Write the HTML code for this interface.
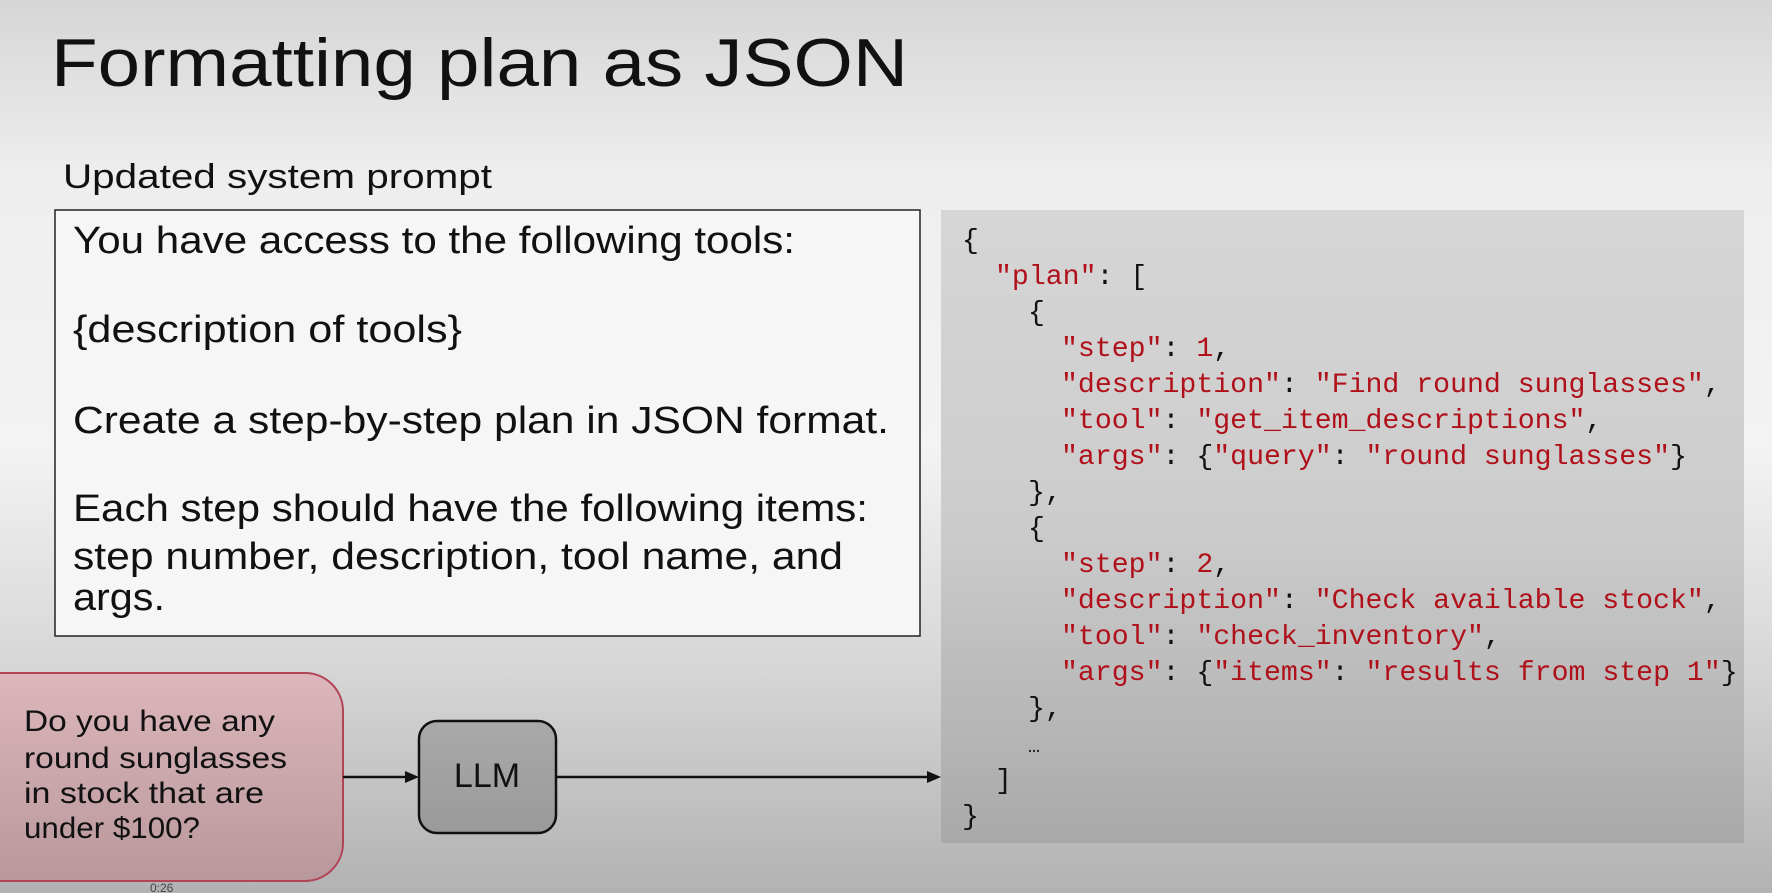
<!DOCTYPE html>
<html><head><meta charset="utf-8"><style>
html,body{margin:0;padding:0;width:1772px;height:893px;overflow:hidden}
svg{display:block}
</style></head><body>
<svg width="1772" height="893" viewBox="0 0 1772 893" xmlns="http://www.w3.org/2000/svg">
<defs>
<linearGradient id="bg" x1="0" y1="0" x2="0" y2="1">
<stop offset="0" stop-color="#d6d6d6"/>
<stop offset="0.2" stop-color="#eeeeee"/>
<stop offset="0.5" stop-color="#f3f3f3"/>
<stop offset="0.75" stop-color="#d6d6d6"/>
<stop offset="1" stop-color="#b2b2b2"/>
</linearGradient>
<linearGradient id="code" x1="0" y1="0" x2="0" y2="1">
<stop offset="0" stop-color="#d6d6d6"/>
<stop offset="0.5" stop-color="#cccccc"/>
<stop offset="1" stop-color="#a9a9a9"/>
</linearGradient>
<linearGradient id="red" x1="0" y1="0" x2="0" y2="1">
<stop offset="0" stop-color="#dcb6bb"/>
<stop offset="1" stop-color="#b8989c"/>
</linearGradient>
<linearGradient id="llm" x1="0" y1="0" x2="0" y2="1">
<stop offset="0" stop-color="#a9a9a9"/>
<stop offset="1" stop-color="#9a9a9a"/>
</linearGradient>
</defs>
<rect width="1772" height="893" fill="url(#bg)"/>
<g font-family="Liberation Sans, sans-serif" fill="#111">
<text x="51" y="86" font-size="68" textLength="857" lengthAdjust="spacingAndGlyphs">Formatting plan as JSON</text>
<text x="63" y="188" font-size="34" textLength="429" lengthAdjust="spacingAndGlyphs">Updated system prompt</text>
</g>
<rect x="55" y="210" width="865" height="426" fill="#f6f6f6" stroke="#222" stroke-width="1.5"/>
<g font-family="Liberation Sans, sans-serif" fill="#111" font-size="38">
<text x="73" y="253" textLength="722" lengthAdjust="spacingAndGlyphs">You have access to the following tools:</text>
<text x="73" y="342" textLength="389" lengthAdjust="spacingAndGlyphs">{description of tools}</text>
<text x="73" y="433" textLength="816" lengthAdjust="spacingAndGlyphs">Create a step-by-step plan in JSON format.</text>
<text x="73" y="521" textLength="795" lengthAdjust="spacingAndGlyphs">Each step should have the following items:</text>
<text x="73" y="569" textLength="770" lengthAdjust="spacingAndGlyphs">step number, description, tool name, and</text>
<text x="73" y="610" textLength="92" lengthAdjust="spacingAndGlyphs">args.</text>
</g>
<rect x="-40" y="673" width="383" height="208" rx="38" fill="url(#red)" stroke="#b24456" stroke-width="2"/>
<g font-family="Liberation Sans, sans-serif" fill="#111" font-size="30">
<text x="24" y="731" textLength="251" lengthAdjust="spacingAndGlyphs">Do you have any</text>
<text x="24" y="768" textLength="263" lengthAdjust="spacingAndGlyphs">round sunglasses</text>
<text x="24" y="803" textLength="240" lengthAdjust="spacingAndGlyphs">in stock that are</text>
<text x="24" y="838" textLength="176" lengthAdjust="spacingAndGlyphs">under $100?</text>
</g>
<rect x="419" y="721" width="137" height="112" rx="18" fill="url(#llm)" stroke="#111" stroke-width="2.5"/>
<text x="487" y="787" font-family="Liberation Sans, sans-serif" font-size="34" text-anchor="middle" fill="#111">LLM</text>
<line x1="343" y1="777" x2="408" y2="777" stroke="#111" stroke-width="2.5"/>
<polygon points="419,777 405,771 405,783" fill="#111"/>
<line x1="556" y1="777" x2="930" y2="777" stroke="#111" stroke-width="2.5"/>
<polygon points="941,777 927,771 927,783" fill="#111"/>
<rect x="941" y="210" width="803" height="633" fill="url(#code)"/>
<g font-family="Liberation Mono, monospace" font-size="28.2" fill="#111">
<text x="962" y="248">{</text>
<text x="995" y="284"><tspan fill="#b0101a">"plan"</tspan>: [</text>
<text x="1028" y="320">{</text>
<text x="1061" y="356"><tspan fill="#b0101a">"step"</tspan>: <tspan fill="#b0101a">1</tspan>,</text>
<text x="1061" y="392"><tspan fill="#b0101a">"description"</tspan>: <tspan fill="#b0101a">"Find round sunglasses"</tspan>,</text>
<text x="1061" y="428"><tspan fill="#b0101a">"tool"</tspan>: <tspan fill="#b0101a">"get_item_descriptions"</tspan>,</text>
<text x="1061" y="464"><tspan fill="#b0101a">"args"</tspan>: {<tspan fill="#b0101a">"query"</tspan>: <tspan fill="#b0101a">"round sunglasses"</tspan>}</text>
<text x="1028" y="500">},</text>
<text x="1028" y="536">{</text>
<text x="1061" y="572"><tspan fill="#b0101a">"step"</tspan>: <tspan fill="#b0101a">2</tspan>,</text>
<text x="1061" y="608"><tspan fill="#b0101a">"description"</tspan>: <tspan fill="#b0101a">"Check available stock"</tspan>,</text>
<text x="1061" y="644"><tspan fill="#b0101a">"tool"</tspan>: <tspan fill="#b0101a">"check_inventory"</tspan>,</text>
<text x="1061" y="680"><tspan fill="#b0101a">"args"</tspan>: {<tspan fill="#b0101a">"items"</tspan>: <tspan fill="#b0101a">"results from step 1"</tspan>}</text>
<text x="1028" y="716">},</text>
<text x="1028" y="752" font-size="20">…</text>
<text x="995" y="788">]</text>
<text x="962" y="824">}</text>
</g>
<text x="150" y="892" font-family="Liberation Sans, sans-serif" font-size="12" fill="#444">0:26</text>
</svg>
</body></html>
